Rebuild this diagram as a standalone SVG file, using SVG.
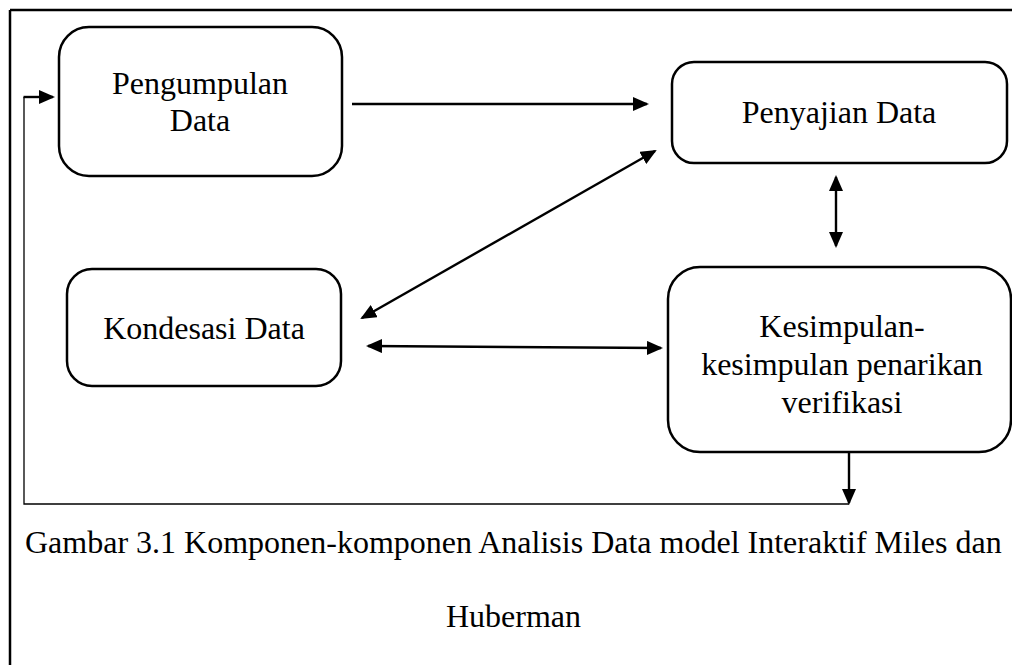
<svg xmlns="http://www.w3.org/2000/svg" width="1012" height="665" viewBox="0 0 1012 665">
<style>
.box{fill:#fff;stroke:#000;stroke-width:2.5}
.t{font-family:"Liberation Serif","Times New Roman",serif;font-size:32px;fill:#000}
.c{text-anchor:middle}
.ln{stroke:#000;stroke-width:2.4;fill:none}
.thin{stroke:#000;stroke-width:1.3;fill:none}
</style>
<defs>
<marker id="ah" markerUnits="userSpaceOnUse" markerWidth="16" markerHeight="14" viewBox="0 0 16 14" refX="14" refY="7" orient="auto-start-reverse">
<path d="M0,0 L16,7 L0,14 z" fill="#000"/>
</marker>
</defs>
<rect width="1012" height="665" fill="#fff"/>
<g id="frame">
<line x1="10" y1="10" x2="1012" y2="10" stroke="#000" stroke-width="2.5"/>
<line x1="10" y1="10" x2="10" y2="665" stroke="#000" stroke-width="2.5"/>
</g>
<g id="connectors">
<line class="ln" x1="352" y1="104" x2="647" y2="104" marker-end="url(#ah)"/>
<line class="ln" x1="362" y1="318" x2="655" y2="151" marker-start="url(#ah)" marker-end="url(#ah)"/>
<line class="ln" x1="368" y1="346" x2="661" y2="348" marker-start="url(#ah)" marker-end="url(#ah)"/>
<line class="ln" x1="836" y1="177" x2="836" y2="246" marker-start="url(#ah)" marker-end="url(#ah)"/>
<line class="ln" x1="849" y1="452" x2="849" y2="503" marker-end="url(#ah)"/>
<polyline class="thin" points="849,504 24,504 24,97"/>
<line class="ln" x1="23.5" y1="97" x2="53" y2="97" marker-end="url(#ah)"/>
</g>
<g id="pengumpulan">
<rect class="box" x="59" y="27" width="283" height="149" rx="30" ry="30"/>
<text class="t c" x="200" y="94">Pengumpulan</text>
<text class="t c" x="200" y="131">Data</text>
</g>
<g id="penyajian">
<rect class="box" x="672" y="62" width="335" height="101" rx="22" ry="22"/>
<text class="t c" x="839" y="123">Penyajian Data</text>
</g>
<g id="kondesasi">
<rect class="box" x="67" y="269" width="274" height="117" rx="25" ry="25"/>
<text class="t c" x="204" y="339">Kondesasi Data</text>
</g>
<g id="kesimpulan">
<rect class="box" x="668" y="267" width="343" height="185" rx="32" ry="32"/>
<text class="t c" x="842" y="337">Kesimpulan-</text>
<text class="t c" x="842" y="375">kesimpulan penarikan</text>
<text class="t c" x="842" y="413">verifikasi</text>
</g>
<g id="caption">
<text class="t" x="25" y="553">Gambar 3.1 Komponen-komponen Analisis Data model Interaktif Miles dan</text>
<text class="t" x="446" y="627">Huberman</text>
</g>
</svg>
